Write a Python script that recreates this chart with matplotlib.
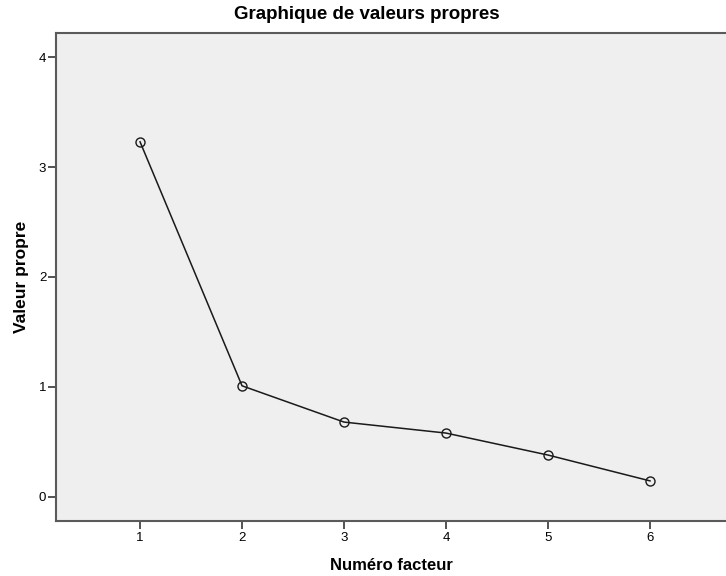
import matplotlib
matplotlib.use('Agg')
import matplotlib.pyplot as plt

# scree plot values
factors = [1, 2, 3, 4, 5, 6]
eigenvalues = [3.23, 1.01, 0.68, 0.58, 0.38, 0.145]
y_ticks = [0, 1, 2, 3, 4]

plt.rcParams['font.family'] = ['Arial', 'Liberation Sans', 'DejaVu Sans']

fig = plt.figure(figsize=(7.26, 5.76), dpi=100)
ax = fig.add_axes([56 / 726, 55 / 576, 1 - 56 / 726, (521 - 33) / 576])
ax.set_facecolor('#efefef')

ax.plot(factors, eigenvalues, color='#1a1a1a', linewidth=1.1,
        marker='o', markersize=6.5, markerfacecolor='none',
        markeredgecolor='#1a1a1a', markeredgewidth=1.0)

ax.set_xlim(0.176, 6.745)
ax.set_ylim(-0.22, 4.22)
ax.set_xticks(factors)
ax.set_yticks(y_ticks)
ax.tick_params(axis='both', labelsize=9.5, length=6, width=1.3, color='#444444', direction='out')
ax.tick_params(axis='x', pad=2)
ax.tick_params(axis='y', pad=1)

for side in ['left', 'bottom', 'top']:
    ax.spines[side].set_color('#5a5a5a')
    ax.spines[side].set_linewidth(1.5)
ax.spines['right'].set_visible(False)

# title is centred on the whole picture, not on the axes
fig.text(367 / 726, 1 - 19 / 576, 'Graphique de valeurs propres', fontsize=13.5,
         fontweight='bold', ha='center', va='baseline')
ax.set_xlabel('Numéro facteur', fontsize=12, fontweight='bold', labelpad=10)
ax.set_ylabel('Valeur propre', fontsize=12.5, fontweight='bold', labelpad=7)

fig.savefig('out.png', dpi=100)
